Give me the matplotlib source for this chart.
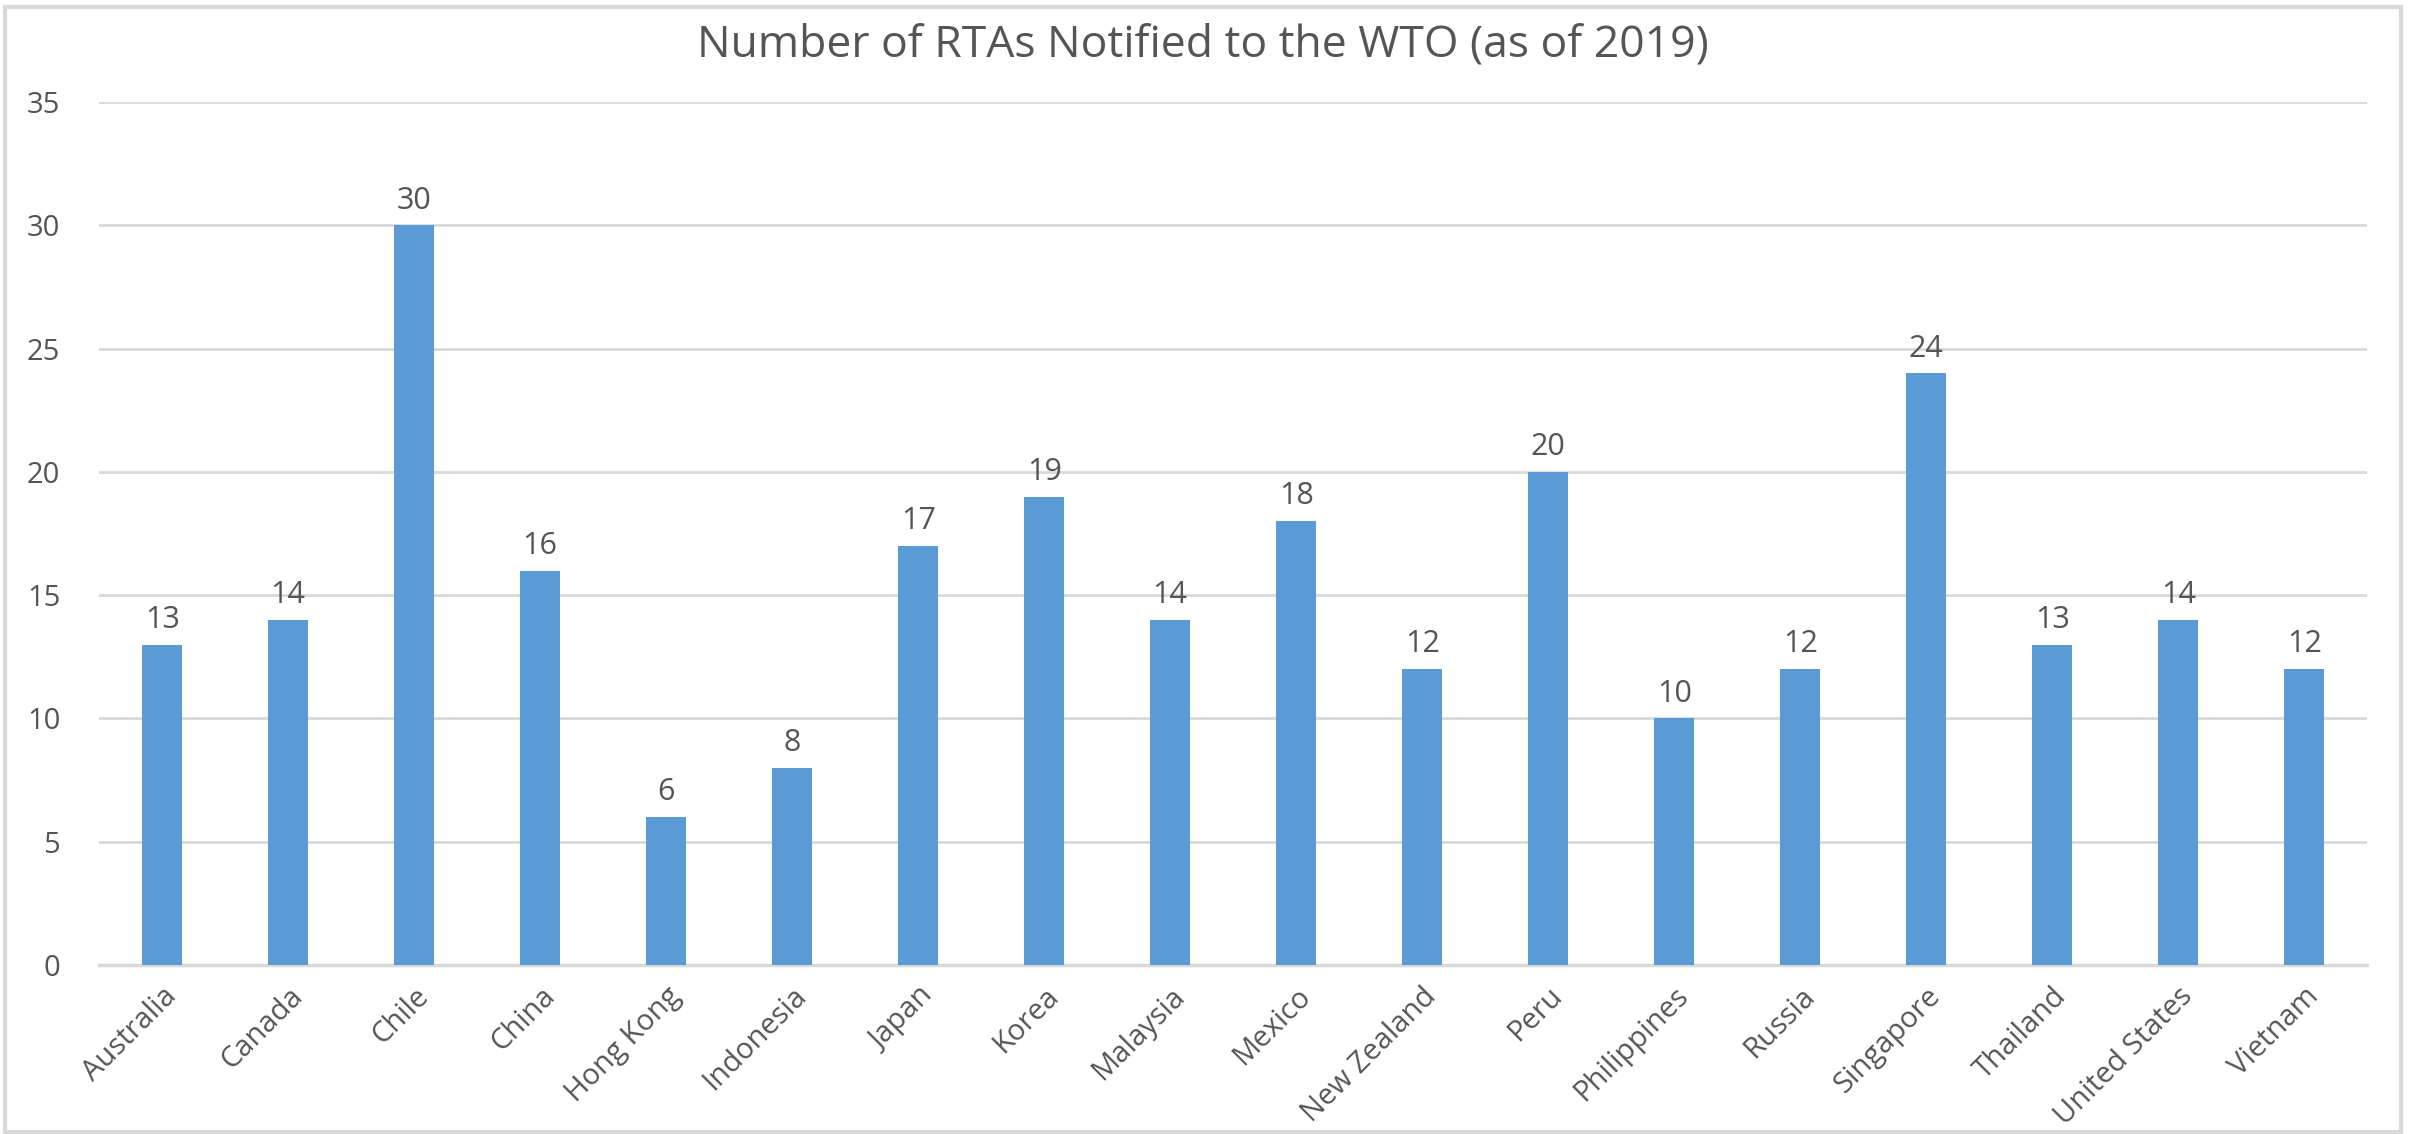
import matplotlib
matplotlib.use("Agg")
import matplotlib.pyplot as plt
from matplotlib.patches import Rectangle

# data
countries = ["Australia", "Canada", "Chile", "China", "Hong Kong", "Indonesia",
             "Japan", "Korea", "Malaysia", "Mexico", "New Zealand", "Peru",
             "Philippines", "Russia", "Singapore", "Thailand", "United States", "Vietnam"]
rtas = [13, 14, 30, 16, 6, 8, 17, 19, 14, 18, 12, 20, 10, 12, 24, 13, 14, 12]
y_ticks = [0, 5, 10, 15, 20, 25, 30, 35]
title = "Number of RTAs Notified to the WTO (as of 2019)"

bar_color = "#5B9BD5"
grid_color = "#D9D9D9"
text_color = "#555555"

plt.rcParams['font.family'] = ['Open Sans', 'DejaVu Sans']

fig = plt.figure(figsize=(24.18, 11.34), dpi=100)
ax = fig.add_axes([0.041, 0.149, 0.938, 0.761])

x = range(len(countries))
bars = ax.bar(x, rtas, width=0.32, color=bar_color, zorder=3)

for b, v in zip(bars, rtas):
    ax.annotate(str(v), (b.get_x() + b.get_width() / 2, v), xytext=(0, 7),
                textcoords="offset points", ha="center", va="bottom",
                fontsize=22, color=text_color)

ax.set_xlim(-0.5, len(countries) - 0.5)
ax.set_ylim(0, 35)
ax.set_yticks(y_ticks)
ax.set_xticks(list(x))
ax.set_xticklabels(countries, rotation=45, ha="right", rotation_mode="anchor")
ax.tick_params(axis="both", length=0, labelsize=21, labelcolor=text_color)
ax.tick_params(axis="y", pad=28)
ax.tick_params(axis="x", pad=12)
ax.grid(axis="y", color=grid_color, linewidth=2, zorder=0)

for s in ["top", "right", "left"]:
    ax.spines[s].set_visible(False)
ax.spines["bottom"].set_color(grid_color)
ax.spines["bottom"].set_linewidth(2.5)

fig.text(0.4975, 0.96, title, ha="center", va="center", fontsize=32, color=text_color)

# light frame around the chart area
fig.patches.append(Rectangle((0.002, 0.002), 0.991, 0.992, transform=fig.transFigure,
                             fill=False, edgecolor="#D9D9D9", linewidth=3))

fig.savefig("out.png", dpi=100)
